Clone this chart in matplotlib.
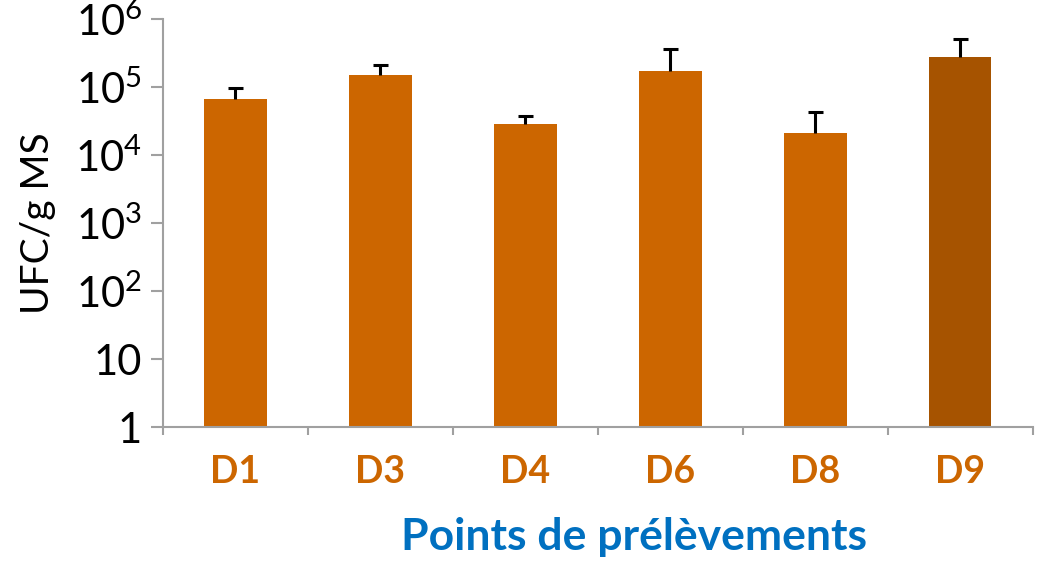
import numpy as np
import matplotlib
matplotlib.use("Agg")
import matplotlib.pyplot as plt
from matplotlib.ticker import FixedLocator, NullLocator

plt.rcParams["font.family"] = ["Lato", "DejaVu Sans"]
plt.rcParams["mathtext.fontset"] = "custom"
plt.rcParams["mathtext.rm"] = "Lato"
plt.rcParams["mathtext.it"] = "Lato"

# donnees
points = ["D1", "D3", "D4", "D6", "D8", "D9"]
ufc = [6.6e4, 1.5e5, 2.85e4, 1.72e5, 2.1e4, 2.75e5]
ufc_haut = [9.7e4, 2.1e5, 3.7e4, 3.6e5, 4.3e4, 5.1e5]
couleurs = ["#CC6600", "#CC6600", "#CC6600", "#CC6600", "#CC6600", "#A65300"]

y_ticks = [1, 10, 1e2, 1e3, 1e4, 1e5, 1e6]
y_labels = ["1", "10", "$10^{2}$", "$10^{3}$", "$10^{4}$", "$10^{5}$", "$10^{6}$"]

fig = plt.figure(figsize=(10.38, 5.62), dpi=100)
ax = fig.add_axes([0.157, 0.240, 0.838, 0.726])

x = np.arange(len(points))
ax.bar(x, ufc, width=0.43, color=couleurs, bottom=1, zorder=2)
# barres d'erreur vers le haut seulement
ax.vlines(x, ufc, ufc_haut, color="black", linewidth=2.2, zorder=3)
ax.hlines(ufc_haut, x - 0.05, x + 0.05, color="black", linewidth=2.2, zorder=3)

ax.set_yscale("log")
ax.set_ylim(1, 1e6)
ax.set_xlim(-0.5, len(points) - 0.5)
ax.yaxis.set_major_locator(FixedLocator(y_ticks))
ax.yaxis.set_minor_locator(NullLocator())
ax.set_yticklabels(y_labels)

ax.set_xticks(x)
ax.set_xticklabels(points, fontsize=27, fontweight="bold", color="#CC6600")
ax.set_xticks(np.arange(len(points) + 1) - 0.5, minor=True)
ax.tick_params(axis="x", which="major", length=0, pad=20)
ax.tick_params(axis="x", which="minor", length=6, width=1.5, color="#A0A0A0", direction="out")
ax.tick_params(axis="y", which="major", length=9, width=1.5, color="#A0A0A0",
               labelsize=30, pad=6)

for s in ["top", "right"]:
    ax.spines[s].set_visible(False)
for s in ["left", "bottom"]:
    ax.spines[s].set_color("#A0A0A0")
    ax.spines[s].set_linewidth(1.5)

ax.set_ylabel("UFC/g MS", fontsize=28, labelpad=14)
fig.text(0.611, 0.0214, "Points de prélèvements", fontsize=32, fontweight="bold",
         color="#0070C0", ha="center", va="baseline")

fig.savefig("out.png", dpi=100)
